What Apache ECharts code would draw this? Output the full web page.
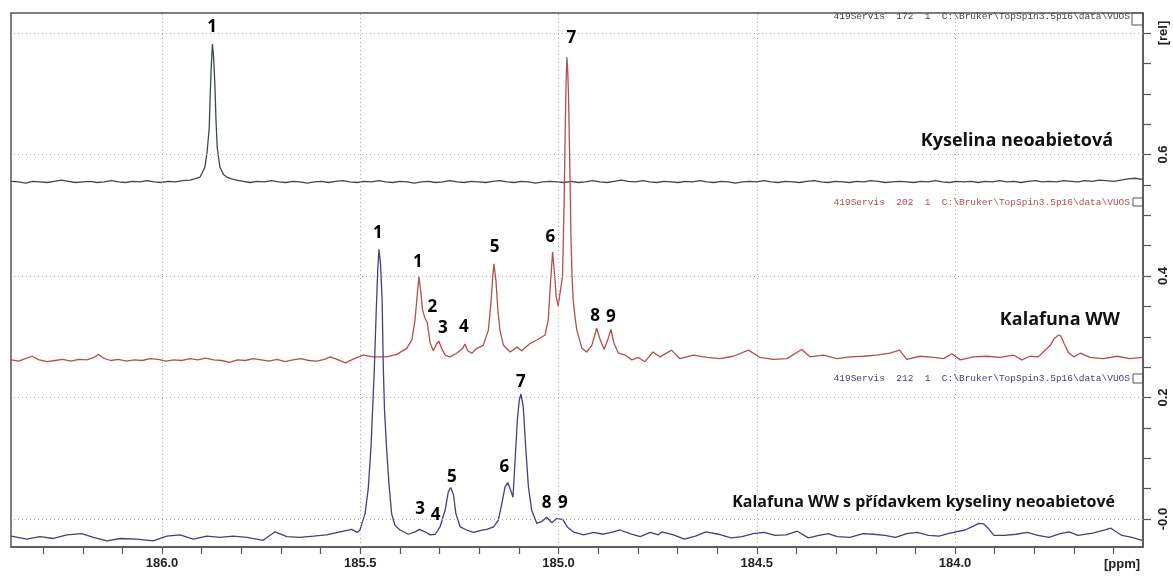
<!DOCTYPE html>
<html>
<head>
<meta charset="utf-8">
<script src="https://cdn.jsdelivr.net/npm/echarts@6/dist/echarts.min.js"></script>
<style>
  html, body { margin: 0; padding: 0; background: #fff; }
  #chart { width: 1173px; height: 576px; }
</style>
</head>
<body>
<div id="chart"></div>
<script>
// Stacked 13C NMR spectra, carbonyl region: [chemical shift (ppm), intensity (rel)]

// Kyselina neoabietová (top trace)
const neoabieticAcid = [
  [186.380,.556],[186.362,.555],[186.344,.553],[186.326,.556],[186.308,.555],[186.290,.554],
  [186.272,.556],[186.254,.558],[186.236,.556],[186.218,.554],[186.200,.555],[186.182,.556],
  [186.164,.554],[186.146,.555],[186.128,.557],[186.110,.555],[186.092,.554],[186.074,.556],
  [186.056,.555],[186.038,.557],[186.020,.555],[186.002,.554],[185.984,.556],[185.966,.555],
  [185.948,.557],[185.930,.558],[185.918,.560],[185.904,.563],[185.892,.579],[185.886,.607],
  [185.881,.645],[185.879,.690],[185.876,.744],[185.873,.782],[185.870,.760],[185.867,.718],
  [185.864,.657],[185.861,.612],[185.854,.579],[185.845,.567],[185.837,.563],[185.825,.560],
  [185.812,.558],[185.795,.556],[185.778,.554],[185.760,.556],[185.742,.555],[185.724,.557],
  [185.706,.555],[185.688,.554],[185.670,.556],[185.652,.555],[185.634,.553],[185.616,.555],
  [185.598,.556],[185.580,.554],[185.562,.556],[185.544,.557],[185.526,.555],[185.508,.554],
  [185.490,.556],[185.472,.555],[185.454,.557],[185.436,.555],[185.418,.554],[185.400,.556],
  [185.382,.555],[185.364,.553],[185.346,.555],[185.328,.556],[185.310,.554],[185.292,.555],
  [185.274,.557],[185.256,.555],[185.238,.554],[185.220,.556],[185.202,.555],[185.184,.554],
  [185.166,.556],[185.148,.557],[185.130,.555],[185.112,.554],[185.094,.556],[185.076,.555],
  [185.058,.553],[185.040,.555],[185.022,.556],[185.004,.555],[184.986,.554],[184.968,.556],
  [184.950,.554],[184.932,.555],[184.914,.557],[184.896,.555],[184.878,.554],[184.860,.556],
  [184.842,.558],[184.824,.556],[184.806,.555],[184.788,.557],[184.770,.555],[184.752,.554],
  [184.734,.556],[184.716,.555],[184.698,.554],[184.680,.556],[184.662,.555],[184.644,.557],
  [184.626,.555],[184.608,.554],[184.590,.556],[184.572,.555],[184.554,.553],[184.536,.555],
  [184.518,.556],[184.500,.555],[184.482,.557],[184.464,.555],[184.446,.554],[184.428,.556],
  [184.410,.555],[184.392,.554],[184.374,.556],[184.356,.557],[184.338,.555],[184.320,.554],
  [184.302,.556],[184.284,.555],[184.266,.554],[184.248,.556],[184.230,.555],[184.212,.557],
  [184.194,.556],[184.176,.554],[184.158,.555],[184.140,.556],[184.122,.555],[184.104,.554],
  [184.086,.556],[184.068,.555],[184.050,.557],[184.032,.555],[184.014,.554],[183.996,.556],
  [183.978,.555],[183.960,.556],[183.942,.554],[183.924,.556],[183.906,.555],[183.888,.557],
  [183.870,.555],[183.852,.556],[183.834,.554],[183.816,.556],[183.798,.557],[183.780,.555],
  [183.762,.556],[183.744,.555],[183.726,.557],[183.708,.556],[183.690,.555],[183.672,.557],
  [183.654,.556],[183.636,.558],[183.618,.557],[183.600,.556],[183.582,.558],[183.564,.560],
  [183.546,.561],[183.528,.559]
];

// Kalafuna WW (middle trace)
const rosinWW = [
  [186.380,.262],[186.362,.260],[186.345,.264],[186.328,.268],[186.310,.262],[186.290,.259],
  [186.270,.261],[186.250,.263],[186.230,.260],[186.210,.263],[186.190,.262],[186.172,.266],
  [186.160,.271],[186.148,.265],[186.130,.261],[186.110,.263],[186.090,.260],[186.070,.262],
  [186.050,.261],[186.030,.264],[186.010,.263],[185.990,.260],[185.970,.262],[185.950,.261],
  [185.930,.264],[185.910,.262],[185.890,.265],[185.870,.262],[185.850,.261],[185.830,.258],
  [185.810,.262],[185.790,.261],[185.770,.264],[185.750,.262],[185.730,.260],[185.710,.263],
  [185.690,.259],[185.670,.262],[185.650,.264],[185.630,.261],[185.610,.260],[185.590,.263],
  [185.576,.267],[185.555,.262],[185.538,.257],[185.515,.264],[185.493,.270],[185.468,.267],
  [185.433,.267],[185.408,.271],[185.383,.281],[185.370,.295],[185.362,.328],[185.356,.372],
  [185.352,.399],[185.348,.377],[185.343,.344],[185.337,.331],[185.331,.323],[185.324,.290],
  [185.316,.277],[185.307,.289],[185.302,.293],[185.295,.281],[185.286,.270],[185.274,.267],
  [185.257,.273],[185.242,.281],[185.236,.288],[185.229,.277],[185.219,.273],[185.206,.281],
  [185.190,.286],[185.177,.311],[185.170,.360],[185.166,.399],[185.163,.420],[185.158,.393],
  [185.153,.344],[185.148,.311],[185.139,.286],[185.122,.275],[185.105,.283],[185.093,.277],
  [185.072,.289],[185.051,.296],[185.034,.303],[185.026,.328],[185.021,.382],[185.015,.440],
  [185.011,.410],[185.006,.366],[185.001,.351],[184.994,.382],[184.990,.400],[184.986,.520],
  [184.983,.650],[184.981,.720],[184.979,.760],[184.977,.740],[184.975,.700],[184.973,.630],
  [184.970,.520],[184.969,.470],[184.966,.400],[184.963,.360],[184.958,.330],[184.954,.311],
  [184.941,.281],[184.929,.275],[184.916,.286],[184.904,.314],[184.895,.295],[184.885,.279],
  [184.876,.295],[184.868,.312],[184.860,.289],[184.849,.273],[184.832,.270],[184.815,.262],
  [184.799,.266],[184.782,.259],[184.762,.275],[184.744,.267],[184.715,.278],[184.694,.264],
  [184.660,.270],[184.626,.266],[184.593,.264],[184.559,.268],[184.521,.278],[184.492,.266],
  [184.458,.263],[184.424,.264],[184.387,.279],[184.366,.267],[184.332,.270],[184.298,.264],
  [184.265,.267],[184.231,.268],[184.198,.270],[184.164,.273],[184.140,.278],[184.122,.263],
  [184.088,.268],[184.055,.266],[184.029,.264],[184.008,.272],[183.987,.262],[183.954,.267],
  [183.920,.268],[183.887,.266],[183.853,.270],[183.832,.262],[183.811,.268],[183.790,.267],
  [183.773,.278],[183.760,.286],[183.750,.297],[183.739,.303],[183.733,.301],[183.725,.289],
  [183.714,.274],[183.701,.267],[183.684,.273],[183.660,.266],[183.626,.264],[183.592,.268],
  [183.559,.264],[183.527,.266]
];

// Kalafuna WW s přídavkem kyseliny neoabietové (bottom trace)
const rosinWithAcid = [
  [186.380,-.028],[186.375,-.026],[186.341,-.033],[186.308,-.029],[186.274,-.032],[186.240,-.026],
  [186.203,-.024],[186.173,-.030],[186.139,-.036],[186.106,-.032],[186.064,-.033],[186.022,-.036],
  [185.988,-.028],[185.955,-.026],[185.921,-.033],[185.887,-.028],[185.854,-.030],[185.820,-.028],
  [185.786,-.030],[185.745,-.035],[185.715,-.021],[185.685,-.029],[185.652,-.030],[185.618,-.028],
  [185.585,-.026],[185.551,-.021],[185.522,-.017],[185.507,-.022],[185.501,-.018],[185.495,-.005],
  [185.488,.009],[185.480,.050],[185.473,.119],[185.470,.165],[185.465,.240],[185.460,.340],
  [185.456,.410],[185.453,.444],[185.449,.420],[185.445,.360],[185.442,.250],[185.439,.180],
  [185.434,.119],[185.428,.060],[185.421,.009],[185.413,-.010],[185.400,-.018],[185.379,-.025],
  [185.362,-.021],[185.351,-.017],[185.337,-.021],[185.324,-.026],[185.311,-.025],[185.299,-.013],
  [185.286,.015],[185.278,.045],[185.272,.052],[185.265,.040],[185.259,.009],[185.248,-.013],
  [185.232,-.018],[185.215,-.022],[185.198,-.019],[185.181,-.017],[185.164,-.013],[185.152,-.002],
  [185.143,.026],[185.135,.053],[185.128,.060],[185.121,.048],[185.115,.036],[185.110,.092],
  [185.104,.163],[185.099,.196],[185.095,.206],[185.089,.185],[185.083,.119],[185.076,.053],
  [185.068,.015],[185.055,-.007],[185.042,-.004],[185.030,.003],[185.017,-.006],[185.005,.001],
  [184.989,-.001],[184.978,-.013],[184.963,-.021],[184.937,-.026],[184.912,-.022],[184.887,-.025],
  [184.862,-.021],[184.845,-.018],[184.820,-.024],[184.794,-.029],[184.769,-.022],[184.748,-.026],
  [184.739,-.021],[184.710,-.026],[184.683,-.033],[184.655,-.028],[184.628,-.021],[184.597,-.025],
  [184.565,-.031],[184.537,-.029],[184.509,-.024],[184.482,-.022],[184.454,-.027],[184.426,-.026],
  [184.398,-.020],[184.370,-.031],[184.343,-.027],[184.320,-.024],[184.297,-.029],[184.265,-.030],
  [184.232,-.024],[184.205,-.025],[184.177,-.027],[184.150,-.030],[184.122,-.024],[184.095,-.022],
  [184.067,-.027],[184.040,-.028],[184.013,-.023],[183.975,-.018],[183.955,-.012],[183.940,-.007],
  [183.928,-.008],[183.915,-.016],[183.902,-.027],[183.875,-.027],[183.846,-.025],[183.818,-.022],
  [183.791,-.027],[183.763,-.030],[183.735,-.024],[183.712,-.021],[183.690,-.027],[183.653,-.023],
  [183.622,-.018],[183.607,-.015],[183.589,-.023],[183.579,-.027],[183.554,-.030],[183.528,-.035]
];

// Peak numbering: [ppm, rel, label]
const acidPeakLabels = [[185.874, 0.810, '1']];
const rosinPeakLabels = [
  [185.355, 0.4236, '1'], [185.318, 0.3484, '2'], [185.292, 0.3150, '3'],
  [185.239, 0.3155, '4'], [185.161, 0.4472, '5'], [185.021, 0.4647, '6'],
  [184.968, 0.7912, '7'], [184.908, 0.3342, '8'], [184.868, 0.3320, '9']
];
const mixturePeakLabels = [
  [185.456, 0.4713, '1'], [185.349, 0.0159, '3'], [185.310, 0.0066, '4'],
  [185.269, 0.0697, '5'], [185.137, 0.0851, '6'], [185.095, 0.2260, '7'],
  [185.030, 0.0269, '8'], [184.989, 0.0258, '9']
];

// Axis ticks and labels
const ppmLabels = [186.0, 185.5, 185.0, 184.5, 184.0];
const ppmTicks = [186.3, 186.2, 186.1, 186.0, 185.9, 185.8, 185.7, 185.6, 185.5, 185.4,
  185.3, 185.2, 185.1, 185.0, 184.9, 184.8, 184.7, 184.6, 184.5, 184.4, 184.3, 184.2,
  184.1, 184.0, 183.9, 183.8, 183.7, 183.6];
const relLabels = [0, 0.2, 0.4, 0.6, 0.8];
const relTicks = [0, 0.05, 0.1, 0.15, 0.2, 0.25, 0.3, 0.35, 0.4, 0.45, 0.5, 0.55, 0.6,
  0.65, 0.7, 0.75, 0.8];

const traceNames = ['Kyselina neoabietová', 'Kalafuna WW', 'Kalafuna WW s přídavkem kyseliny neoabietové'];
const fileTags = [
  '419Servis  172  1  C:\\Bruker\\TopSpin3.5p16\\data\\VUOS',
  '419Servis  202  1  C:\\Bruker\\TopSpin3.5p16\\data\\VUOS',
  '419Servis  212  1  C:\\Bruker\\TopSpin3.5p16\\data\\VUOS'
];

const colors = { acid: '#3b4a49', rosin: '#b24f4f', mix: '#4a3d7a', frame: '#555555', grid: '#a8a8a8' };

const chart = echarts.init(document.getElementById('chart'), null, { renderer: 'canvas' });

function traceSeries(name, data, color) {
  return {
    name, type: 'line', data, showSymbol: false, symbol: 'none',
    lineStyle: { color, width: 1.3 }, z: 3, silent: true, clip: true
  };
}
function labelSeries(data) {
  return {
    type: 'scatter', data, symbolSize: 0, silent: true, z: 5,
    itemStyle: { opacity: 1 },
    label: {
      show: true, position: 'inside', formatter: p => p.value[2], opacity: 1,
      fontFamily: 'Open Sans', fontWeight: 'bold', fontSize: 17, color: '#000',
      textBorderWidth: 0, textBorderColor: 'transparent'
    }
  };
}

const gridMarks = {
  silent: true, symbol: ['none', 'none'], animation: false,
  label: { show: false },
  lineStyle: { color: colors.grid, type: [1, 3], width: 1 },
  data: ppmLabels.map(v => ({ xAxis: v })).concat(relLabels.map(v => ({ yAxis: v })))
};

const acidSeries = traceSeries(traceNames[0], neoabieticAcid, colors.acid);
acidSeries.markLine = gridMarks;

const option = {
  animation: false,
  backgroundColor: '#fff',
  grid: { left: 11, right: 30, top: 13, bottom: 29, show: true, borderColor: colors.frame, borderWidth: 1.5, backgroundColor: '#fff' },
  xAxis: {
    type: 'value', inverse: true, min: 183.526, max: 186.381,
    axisLine: { show: true, onZero: false, lineStyle: { color: colors.frame, width: 1.5 } },
    axisTick: { show: true, customValues: ppmTicks, length: 7, lineStyle: { color: colors.frame, width: 1.2 } },
    axisLabel: {
      customValues: ppmLabels, formatter: v => Number(v).toFixed(1), margin: 10,
      fontFamily: 'Liberation Sans', fontWeight: 'bold', fontSize: 13, color: '#222'
    },
    splitLine: { show: false }
  },
  yAxis: {
    type: 'value', position: 'right', min: -0.046, max: 0.833,
    axisLine: { show: true, onZero: false, lineStyle: { color: colors.frame, width: 1.5 } },
    axisTick: { show: true, customValues: relTicks, length: 8, lineStyle: { color: colors.frame, width: 1.2 } },
    axisLabel: {
      customValues: relLabels, rotate: 90, margin: 14,
      formatter: v => (Math.abs(v) < 1e-9 ? '-0.0' : (Math.abs(v - 0.8) < 1e-9 ? '[rel]' : Number(v).toFixed(1))),
      fontFamily: 'Liberation Sans', fontWeight: 'bold', fontSize: 13, color: '#222'
    },
    splitLine: { show: false }
  },
  series: [
    acidSeries,
    traceSeries(traceNames[1], rosinWW, colors.rosin),
    traceSeries(traceNames[2], rosinWithAcid, colors.mix),
    labelSeries(acidPeakLabels),
    labelSeries(rosinPeakLabels),
    labelSeries(mixturePeakLabels)
  ],
  graphic: [
    { type: 'text', right: 1173 - 1113, top: 132, z: 10,
      style: { text: traceNames[0], font: 'bold 18px "Open Sans"', fill: '#111' } },
    { type: 'text', right: 1173 - 1120, top: 311, z: 10,
      style: { text: traceNames[1], font: 'bold 18px "Open Sans"', fill: '#111' } },
    { type: 'text', right: 1173 - 1115, top: 494, z: 10,
      style: { text: traceNames[2], font: 'bold 16px "Open Sans"', fill: '#111' } },
    { type: 'text', x: 1130, y: 16, z: 10,
      style: { text: fileTags[0], align: 'right', verticalAlign: 'middle', font: '9.5px "Liberation Mono"', fill: '#3b4a49' } },
    { type: 'text', x: 1130, y: 202, z: 10,
      style: { text: fileTags[1], align: 'right', verticalAlign: 'middle', font: '9.5px "Liberation Mono"', fill: '#b24f4f' } },
    { type: 'text', x: 1130, y: 378, z: 10,
      style: { text: fileTags[2], align: 'right', verticalAlign: 'middle', font: '9.5px "Liberation Mono"', fill: '#4a3d7a' } },
    { type: 'rect', shape: { x: 1132, y: 13, width: 11, height: 12 }, z: 10,
      style: { fill: 'none', stroke: colors.frame, lineWidth: 1 } },
    { type: 'rect', shape: { x: 1133, y: 198, width: 10, height: 8 }, z: 10,
      style: { fill: 'none', stroke: colors.frame, lineWidth: 1 } },
    { type: 'rect', shape: { x: 1133, y: 374, width: 10, height: 9 }, z: 10,
      style: { fill: 'none', stroke: colors.frame, lineWidth: 1 } },
    { type: 'text', x: 1122, y: 564, z: 10,
      style: { text: '[ppm]', align: 'center', verticalAlign: 'middle', font: 'bold 13px "Liberation Sans"', fill: '#222' } }
  ]
};

chart.setOption(option);
</script>
</body>
</html>
